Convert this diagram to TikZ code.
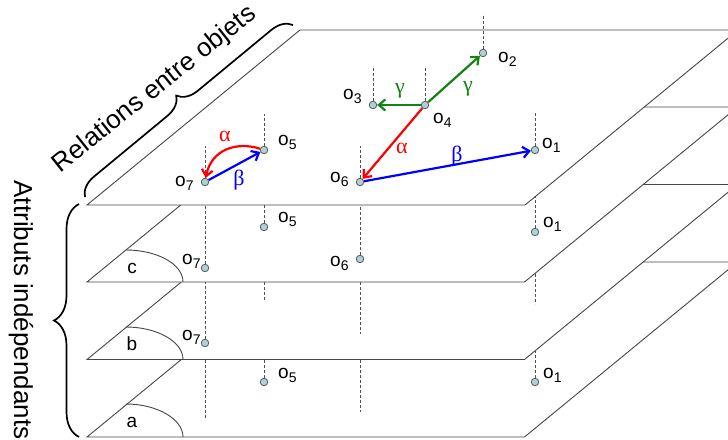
\documentclass[tikz,border=0pt]{standalone}
\usepackage{fontspec}
\setmainfont{Liberation Sans}
\newfontfamily\grk{Liberation Serif}
\usetikzlibrary{arrows.meta,decorations.pathreplacing}
\definecolor{edgec}{RGB}{70,70,70}
\definecolor{dashc}{RGB}{80,80,80}
\definecolor{dotfill}{RGB}{178,208,208}
\definecolor{dotline}{RGB}{80,96,96}
\definecolor{grn}{RGB}{20,130,20}
\newcommand\ob[1]{o\raisebox{-4.5pt}{\fontsize{14}{14}\selectfont #1}}
\begin{document}
\begin{tikzpicture}[x=1pt,y=-1pt,
  plane/.style={draw=edgec,line width=0.9pt,fill=white,line join=miter},
  dashln/.style={draw=dashc,line width=0.8pt,dash pattern=on 3pt off 2pt},
  dot/.style={circle,draw=dotline,fill=dotfill,line width=0.8pt,minimum size=7.5pt,inner sep=0pt},
  olab/.style={anchor=base west,inner sep=0pt,font=\fontsize{19}{19}\selectfont},
  glab/.style={inner sep=0pt,font=\grk\fontsize{22}{22}\selectfont},
  rel/.style={line width=2.2pt,-{Straight Barb[length=6.5pt,width=11pt]}},
  bigtxt/.style={inner sep=0pt,font=\fontsize{26}{26}\selectfont},
  brc/.style={decorate,line width=1.7pt,black}
]
\useasboundingbox (0,0) rectangle (728,439);
\begin{scope}
\clip (0,0) rectangle (728,439);
% plane a
\path[plane] (87,437) -- (524.5,437) -- (737.5,262) -- (300,262) -- cycle;
\draw[edgec,line width=0.9pt] (126,404) .. controls (157,404) and (183,419) .. (183,437);
% plane b
\path[plane] (87,359.5) -- (524.5,359.5) -- (737.5,184.5) -- (300,184.5) -- cycle;
\draw[edgec,line width=0.9pt] (126,327) .. controls (157,327) and (183,341.5) .. (183,359.5);
% plane c
\path[plane] (87,282) -- (524.5,282) -- (737.5,107) -- (300,107) -- cycle;
\draw[edgec,line width=0.9pt] (126,250) .. controls (157,250) and (183,264) .. (183,282);
% top plane
\path[plane] (87,205) -- (525,205) -- (738,30) -- (300,30) -- cycle;
\end{scope}

\node[font=\fontsize{19}{19}\selectfont,inner sep=0pt] (lc) at (132,268) {c};
\node[font=\fontsize{19}{19}\selectfont,inner sep=0pt] (lb) at (132,344) {b};
\node[font=\fontsize{19}{19}\selectfont,inner sep=0pt] (la) at (132,422) {a};

% dashed lines without dots
\draw[dashln] (264,282) -- (264,302);
\draw[dashln] (360,282) -- (360,334);
\draw[dashln] (535,274) -- (535,304);
\draw[dashln] (205,359.5) -- (205,418);
\draw[dashln] (360,359.5) -- (360,412);

% top plane dots
\node[dot] (o7t) at (205,182) {};
\node[dot] (o5t) at (264,150) {};
\node[dot] (o6t) at (360,182) {};
\node[dot] (o3t) at (373,105) {};
\node[dot] (o4t) at (425,105) {};
\node[dot] (o2t) at (483,53) {};
\node[dot] (o1t) at (535,150) {};
\draw[dashln] (o7t.north) -- ++(0,-32);
\draw[dashln] (o5t.north) -- ++(0,-32);
\draw[dashln] (o6t.north) -- ++(0,-32);
\draw[dashln] (o3t.north) -- ++(0,-34);
\draw[dashln] (o4t.north) -- ++(0,-34);
\draw[dashln] (o2t.north) -- ++(0,-35);
\draw[dashln] (o1t.north) -- ++(0,-34);
% plane c dots
\node[dot] (o5c) at (264,227) {};
\node[dot] (o7c) at (205,268) {};
\node[dot] (o6c) at (360,259) {};
\node[dot] (o1c) at (535,232) {};
\draw[dashln] (o5c.north) -- (264,205);
\draw[dashln] (o7c.north) -- (205,205);
\draw[dashln] (o6c.north) -- (360,205);
\draw[dashln] (o1c.north) -- (535,197);
% plane b dots
\node[dot] (o7b) at (205,343) {};
\draw[dashln] (o7b.north) -- (205,282);
% plane a dots
\node[dot] (o5a) at (264,382) {};
\node[dot] (o1a) at (535,382) {};
\draw[dashln] (o5a.north) -- (264,359.5);
\draw[dashln] (o1a.north) -- (535,350);

% object labels
\node[olab] (t7) at (175,186) {\ob{7}};
\node[olab] (t5) at (278,145) {\ob{5}};
\node[olab] (t6) at (330,182) {\ob{6}};
\node[olab] (t3) at (343,99) {\ob{3}};
\node[olab] (t4) at (433,123) {\ob{4}};
\node[olab] (t2) at (498,62) {\ob{2}};
\node[olab] (t1) at (542,148) {\ob{1}};
\node[olab] (c5) at (278,222) {\ob{5}};
\node[olab] (c7) at (182,264) {\ob{7}};
\node[olab] (c6) at (330,266) {\ob{6}};
\node[olab] (c1) at (543,227) {\ob{1}};
\node[olab] (b7) at (182,340) {\ob{7}};
\node[olab] (a5) at (278,378) {\ob{5}};
\node[olab] (a1) at (543,378) {\ob{1}};

% relations
\draw[rel,grn] (o4t) -- (o2t);
\draw[rel,grn] (o4t) -- (o3t);
\draw[rel,red] (o4t) -- (o6t);
\draw[rel,blue] (o6t) -- (o1t);
\draw[rel,blue] (o7t) -- (o5t);
\draw[rel,red] (o5t) .. controls (236,141) and (211,150) .. (o7t);

\node[glab,text=grn] (g1) at (400,91) {γ};
\node[glab,text=grn] (g2) at (468,89) {γ};
\node[glab,text=red] (al1) at (402,148) {α};
\node[glab,text=blue] (be1) at (457,156) {β};
\node[glab,text=red] (al2) at (225,136) {α};
\node[glab,text=blue] (be2) at (239,180) {β};

% braces and titles
\coordinate (rb1) at (85,197);
\coordinate (rb2) at (293,25);
\draw[brc,decoration={brace,amplitude=20pt}] (rb1) -- (rb2);
\coordinate (ab1) at (79,437);
\coordinate (ab2) at (79,204);
\draw[brc,decoration={brace,amplitude=25pt}] (ab1) -- (ab2);
\node[bigtxt,anchor=base,rotate=38.5] (rel) at (159,95) {Relations entre objets};
\node[bigtxt,anchor=base,rotate=-90] (att) at (14,310) {Attributs indépendants};
\end{tikzpicture}
\end{document}
